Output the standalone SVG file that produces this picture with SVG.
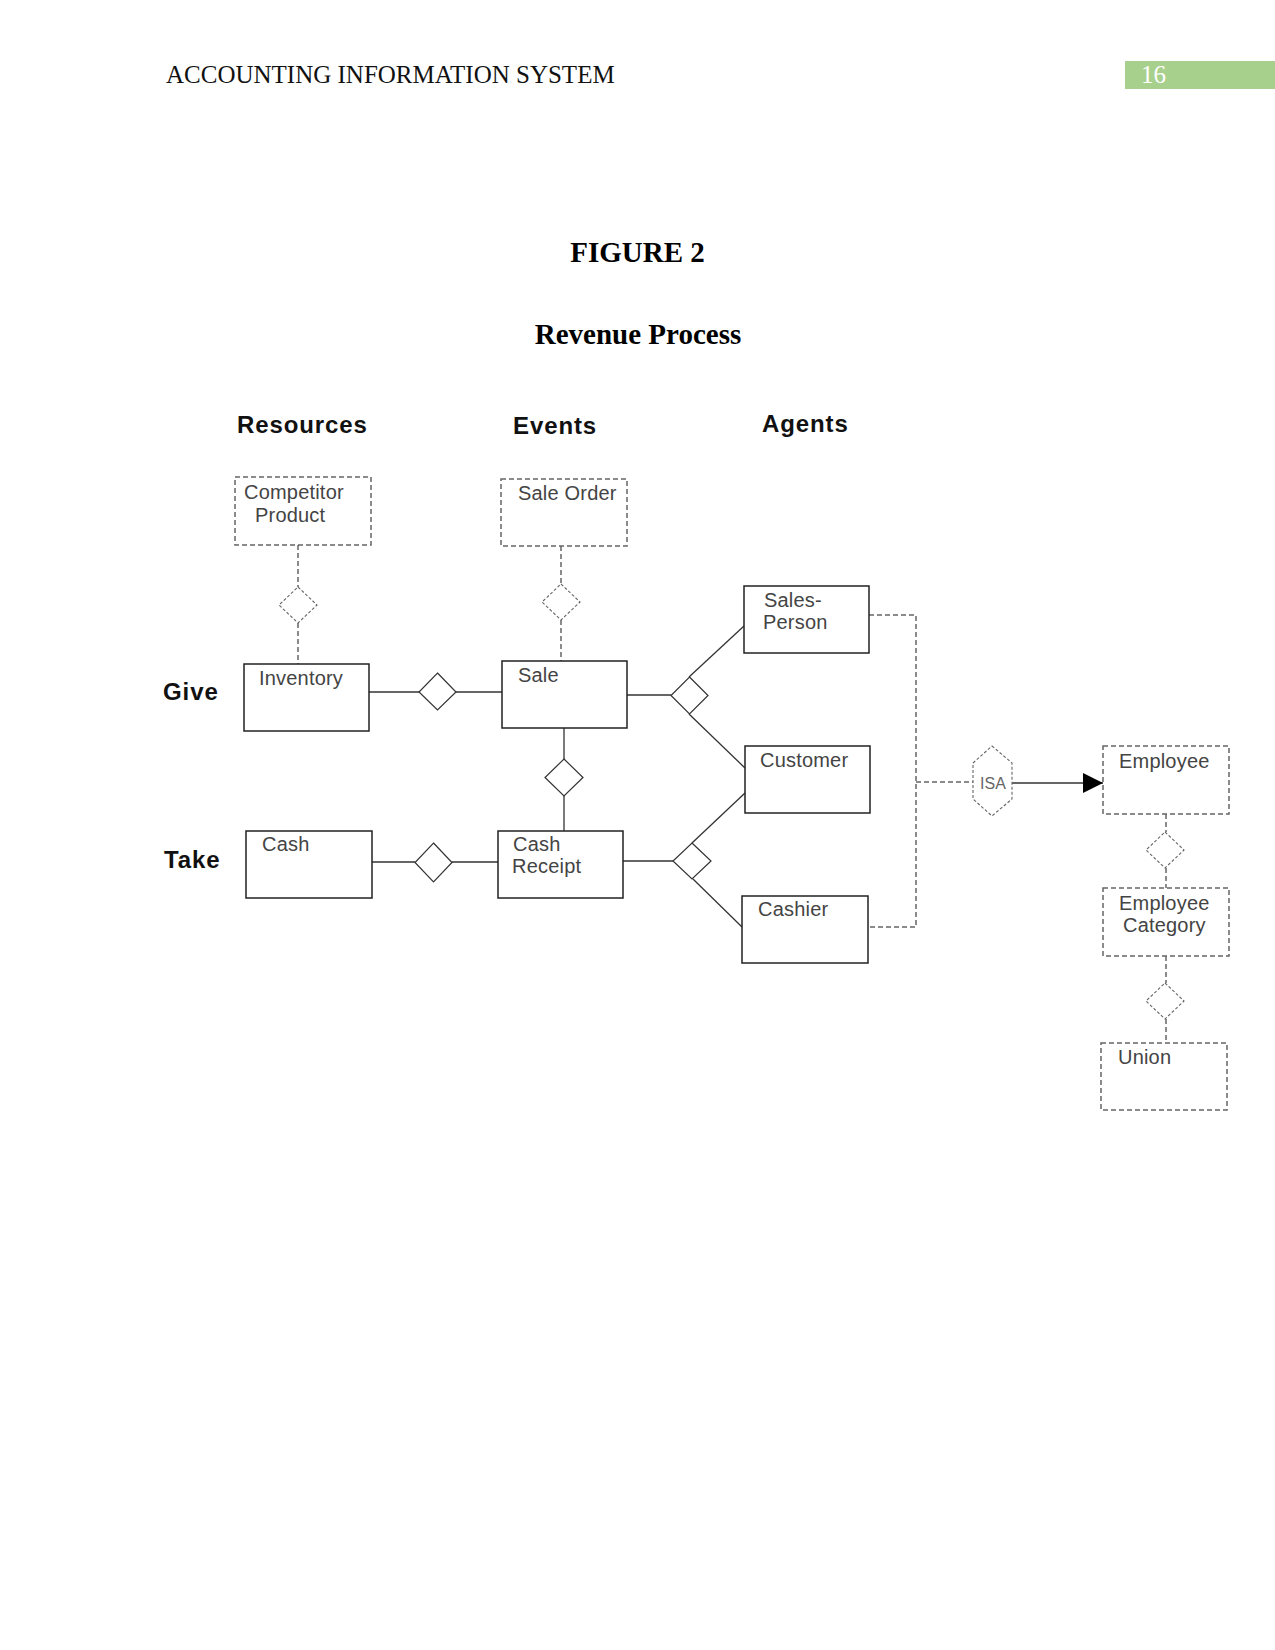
<svg xmlns="http://www.w3.org/2000/svg" width="1275" height="1650" viewBox="0 0 1275 1650">
<defs>
<style>
.hdr{font-family:"Liberation Serif","Times New Roman",serif;font-size:25px;fill:#111}
.title{font-family:"Liberation Serif","Times New Roman",serif;font-size:29px;font-weight:bold;fill:#000;text-anchor:middle}
.col{font-family:"Liberation Sans",Arial,sans-serif;font-size:24px;font-weight:bold;fill:#111;letter-spacing:0.9px}
.lbl{font-family:"Liberation Sans",Arial,sans-serif;font-size:20px;fill:#444;letter-spacing:0.2px}
.ent{fill:#fff;stroke:#222;stroke-width:1.5}
.dent{fill:#fff;stroke:#666;stroke-width:1.5;stroke-dasharray:5,3}
.rel{fill:#fff;stroke:#333;stroke-width:1.2}
.drel{fill:#fff;stroke:#666;stroke-width:1.1;stroke-dasharray:3,2}
.ln{fill:none;stroke:#333;stroke-width:1.3}
.dln{fill:none;stroke:#666;stroke-width:1.5;stroke-dasharray:5,3}
</style>
<marker id="arr" markerWidth="20" markerHeight="20" refX="20" refY="10" orient="auto" markerUnits="userSpaceOnUse">
<path d="M0,0 L20,10 L0,20 Z" fill="#000"/>
</marker>
</defs>
<rect width="1275" height="1650" fill="#fff"/>

<g id="header">
<text class="hdr" x="166" y="83">ACCOUNTING INFORMATION SYSTEM</text>
<rect x="1125" y="61" width="150" height="28" fill="#a8d08d"/>
<text x="1141" y="83" font-family="Liberation Serif, serif" font-size="25" fill="#fff">16</text>
</g>

<g id="titles">
<text class="title" x="637.5" y="262">FIGURE 2</text>
<text class="title" x="638" y="344">Revenue Process</text>
</g>

<g id="column-labels">
<text class="col" x="237" y="433">Resources</text>
<text class="col" x="513" y="434">Events</text>
<text class="col" x="762" y="432">Agents</text>
<text class="col" x="163" y="700">Give</text>
<text class="col" x="164" y="868">Take</text>
</g>

<g id="connectors">
<line class="dln" x1="298" y1="545" x2="298" y2="587"/>
<line class="dln" x1="298" y1="623" x2="298" y2="664"/>
<line class="dln" x1="561" y1="546" x2="561" y2="584"/>
<line class="dln" x1="561" y1="620" x2="561" y2="661"/>
<line class="ln" x1="369" y1="692" x2="419" y2="692"/>
<line class="ln" x1="456" y1="692" x2="502" y2="692"/>
<line class="ln" x1="564" y1="728" x2="564" y2="759"/>
<line class="ln" x1="564" y1="796" x2="564" y2="831"/>
<line class="ln" x1="372" y1="862" x2="415" y2="862"/>
<line class="ln" x1="452" y1="862" x2="498" y2="862"/>
<line class="ln" x1="627" y1="695" x2="671" y2="695"/>
<line class="ln" x1="689" y1="677" x2="744" y2="626"/>
<line class="ln" x1="689" y1="714" x2="745" y2="768"/>
<line class="ln" x1="623" y1="861" x2="673" y2="861"/>
<line class="ln" x1="692" y1="843" x2="745" y2="793"/>
<line class="ln" x1="693" y1="879" x2="742" y2="927"/>
<polyline class="dln" points="869,615 916,615 916,927 868,927"/>
<line class="dln" x1="916" y1="782" x2="973" y2="782"/>
<line class="ln" x1="1012" y1="783" x2="1103" y2="783" marker-end="url(#arr)"/>
<line class="dln" x1="1166" y1="814" x2="1166" y2="832"/>
<line class="dln" x1="1166" y1="868" x2="1166" y2="888"/>
<line class="dln" x1="1166" y1="956" x2="1166" y2="983"/>
<line class="dln" x1="1166" y1="1019" x2="1166" y2="1043"/>
</g>

<g id="rel-diamonds">
<polygon id="r-comp-inv" class="drel" points="298,587 317,605 298,623 279,605"/>
<polygon id="r-order-sale" class="drel" points="561,584 580,602 561,620 542,602"/>
<polygon id="r-inv-sale" class="rel" points="437.5,673 456,692 437.5,710 419,692"/>
<polygon id="r-sale-cash" class="rel" points="564,759 583,777.5 564,796 545,777.5"/>
<polygon id="r-cash-cr" class="rel" points="433.5,843 452,862.5 433.5,882 415,862.5"/>
<polygon id="r-sale-agents" class="rel" points="689.5,677 708,695.5 689.5,714 671,695.5"/>
<polygon id="r-cr-agents" class="rel" points="692,843 711,861 692,879 673,861"/>
<polygon id="r-emp-cat" class="drel" points="1165,832 1184,850 1165,868 1146,850"/>
<polygon id="r-cat-union" class="drel" points="1165,983 1184,1001 1165,1019 1146,1001"/>
</g>

<g id="isa">
<polygon class="drel" points="992,746 1012,763 1012,799 992,816 973,799 973,763"/>
<text x="993" y="789" font-family="Liberation Sans, Arial, sans-serif" font-size="16" fill="#666" text-anchor="middle">ISA</text>
</g>

<g id="competitor-product">
<rect class="dent" x="235" y="477" width="136" height="68"/>
<text class="lbl" x="244" y="499">Competitor</text>
<text class="lbl" x="255" y="522">Product</text>
</g>
<g id="sale-order">
<rect class="dent" x="501" y="479" width="126" height="67"/>
<text class="lbl" x="518" y="500">Sale Order</text>
</g>
<g id="inventory">
<rect class="ent" x="244" y="664" width="125" height="67"/>
<text class="lbl" x="259" y="685">Inventory</text>
</g>
<g id="sale">
<rect class="ent" x="502" y="661" width="125" height="67"/>
<text class="lbl" x="518" y="682">Sale</text>
</g>
<g id="cash">
<rect class="ent" x="246" y="831" width="126" height="67"/>
<text class="lbl" x="262" y="851">Cash</text>
</g>
<g id="cash-receipt">
<rect class="ent" x="498" y="831" width="125" height="67"/>
<text class="lbl" x="513" y="851">Cash</text>
<text class="lbl" x="512" y="873">Receipt</text>
</g>
<g id="sales-person">
<rect class="ent" x="744" y="586" width="125" height="67"/>
<text class="lbl" x="764" y="607">Sales-</text>
<text class="lbl" x="763" y="629">Person</text>
</g>
<g id="customer">
<rect class="ent" x="745" y="746" width="125" height="67"/>
<text class="lbl" x="760" y="767">Customer</text>
</g>
<g id="cashier">
<rect class="ent" x="742" y="896" width="126" height="67"/>
<text class="lbl" x="758" y="916">Cashier</text>
</g>
<g id="employee">
<rect class="dent" x="1103" y="746" width="126" height="68"/>
<text class="lbl" x="1119" y="768">Employee</text>
</g>
<g id="employee-category">
<rect class="dent" x="1103" y="888" width="126" height="68"/>
<text class="lbl" x="1119" y="910">Employee</text>
<text class="lbl" x="1123" y="932">Category</text>
</g>
<g id="union">
<rect class="dent" x="1101" y="1043" width="126" height="67"/>
<text class="lbl" x="1118" y="1064">Union</text>
</g>
</svg>
